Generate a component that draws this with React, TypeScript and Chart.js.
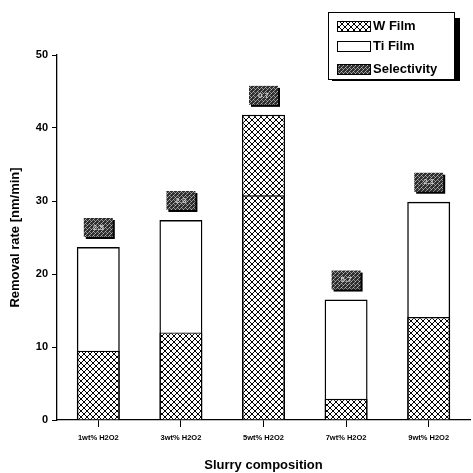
import React, { useEffect, useRef } from "react";
import { Chart, registerables } from "chart.js";

Chart.register(...registerables);

const categories = ["1wt% H2O2", "3wt% H2O2", "5wt% H2O2", "7wt% H2O2", "9wt% H2O2"];
const wFilm = [9.5, 12.0, 41.8, 2.9, 14.1];
const tiFilm = [23.7, 27.4, 30.8, 16.5, 29.9];
const selectivity = ["2.5", "2.3", "0.7", "5.7", "2.1"];
const yTicks = [0, 10, 20, 30, 40, 50];

const FONT = "'Liberation Sans', Arial, sans-serif";

function makeCrosshatch(transparent: boolean) {
  const c = document.createElement("canvas");
  c.width = 6;
  c.height = 6;
  const g = c.getContext("2d")!;
  if (!transparent) {
    g.fillStyle = "#ffffff";
    g.fillRect(0, 0, 6, 6);
  }
  g.strokeStyle = "#000";
  g.lineWidth = 1;
  g.beginPath();
  g.moveTo(-1, -1);
  g.lineTo(7, 7);
  g.moveTo(-1, 5);
  g.lineTo(1, 7);
  g.moveTo(5, -1);
  g.lineTo(7, 1);
  g.moveTo(7, -1);
  g.lineTo(-1, 7);
  g.moveTo(1, -1);
  g.lineTo(-1, 1);
  g.moveTo(7, 5);
  g.lineTo(5, 7);
  g.stroke();
  return g.createPattern(c, "repeat")!;
}

function makeStipple() {
  const c = document.createElement("canvas");
  c.width = 4;
  c.height = 4;
  const g = c.getContext("2d")!;
  g.fillStyle = "#2e2e2e";
  g.fillRect(0, 0, 4, 4);
  g.fillStyle = "#8a8a8a";
  g.fillRect(0, 0, 1, 1);
  g.fillRect(2, 2, 1, 1);
  g.fillRect(2, 0, 1, 1);
  g.fillStyle = "#b8b8b8";
  g.fillRect(1, 3, 1, 1);
  g.fillRect(3, 1, 1, 1);
  return g.createPattern(c, "repeat")!;
}

export default function App() {
  const ref = useRef<HTMLCanvasElement>(null);

  useEffect(() => {
    const canvas = ref.current!;
    const hatch = makeCrosshatch(false);
    const stipple = makeStipple();

    const overlayPlugin = {
      id: "overlay",
      afterDatasetsDraw(chart: any) {
        const ctx = chart.ctx;
        const x = chart.scales.x;
        const y = chart.scales.y;
        ctx.save();
        // selectivity boxes
        categories.forEach((_, i) => {
          const cx = x.getPixelForValue(i);
          const top = y.getPixelForValue(Math.max(wFilm[i], tiFilm[i]));
          const bw = 29;
          const bh = 19;
          const bx = cx - bw / 2;
          const by = top - 10 - bh;
          ctx.fillStyle = "#000";
          ctx.fillRect(bx + 2, by + 2, bw, bh);
          ctx.fillStyle = stipple;
          ctx.fillRect(bx, by, bw, bh);
          ctx.fillStyle = "#cfcfcf";
          ctx.font = `bold 8px ${FONT}`;
          ctx.textAlign = "center";
          ctx.textBaseline = "middle";
          ctx.fillText(selectivity[i], cx, by + bh / 2);
        });
        // legend
        const lx = 328, ly = 12, lw = 126, lh = 67;
        ctx.fillStyle = "#000";
        ctx.fillRect(lx + lw, ly + 6, 6, lh - 4);
        ctx.fillRect(lx + 4, ly + lh, lw + 2, 2);
        ctx.fillStyle = "#fff";
        ctx.fillRect(lx, ly, lw, lh);
        ctx.strokeStyle = "#000";
        ctx.lineWidth = 1;
        ctx.strokeRect(lx + 0.5, ly + 0.5, lw, lh);
        const items = [
          { label: "W Film", fill: hatch, y: 21 },
          { label: "Ti Film", fill: "#fff", y: 41 },
          { label: "Selectivity", fill: stipple, y: 64 },
        ];
        items.forEach((it) => {
          ctx.fillStyle = it.fill;
          ctx.fillRect(337, it.y, 33, 10);
          ctx.strokeStyle = "#000";
          ctx.strokeRect(337.5, it.y + 0.5, 33, 10);
          ctx.fillStyle = "#000";
          ctx.font = `bold 13px ${FONT}`;
          ctx.textAlign = "left";
          ctx.textBaseline = "middle";
          ctx.fillText(it.label, 373, it.y + 5.5);
        });
        ctx.restore();
      },
    };

    const chart = new Chart(canvas, {
      type: "bar",
      data: {
        labels: categories,
        datasets: [
          {
            label: "Ti Film",
            data: tiFilm,
            backgroundColor: "rgba(0,0,0,0)",
            borderColor: "#000",
            borderWidth: 1.4,
            grouped: false,
            order: 0,
            barPercentage: 0.52,
            categoryPercentage: 1,
          } as any,
          {
            label: "W Film",
            data: wFilm,
            backgroundColor: hatch,
            borderColor: "#000",
            borderWidth: 1.4,
            grouped: false,
            order: 1,
            barPercentage: 0.52,
            categoryPercentage: 1,
          } as any,
        ],
      },
      options: {
        responsive: false,
        animation: false,
        layout: { padding: { top: 55, right: 3, left: 0, bottom: 0 } },
        plugins: {
          legend: { display: false },
          tooltip: { enabled: false },
        },
        scales: {
          x: {
            offset: true,
            border: { color: "#000", width: 1.3 },
            grid: {
              display: true,
              drawOnChartArea: false,
              drawTicks: true,
              tickLength: 7,
              offset: false,
              color: "#000",
            },
            ticks: {
              color: "#000",
              font: { family: FONT, size: 7.5, weight: "bold" },
              padding: 6,
              maxRotation: 0,
              autoSkip: false,
            },
            title: {
              display: true,
              text: "Slurry composition",
              color: "#000",
              font: { family: FONT, size: 13, weight: "bold" },
              padding: { top: 10, bottom: 0 },
            },
            afterFit: (s: any) => {
              s.height = 53;
            },
          },
          y: {
            min: 0,
            max: 50,
            afterBuildTicks: (s: any) => {
              s.ticks = yTicks.map((v) => ({ value: v }));
            },
            border: { color: "#000", width: 1.3 },
            grid: {
              display: true,
              drawOnChartArea: false,
              drawTicks: true,
              tickLength: 5,
              color: "#000",
            },
            ticks: {
              color: "#000",
              font: { family: FONT, size: 11, weight: "bold" },
              padding: 4,
            },
            title: {
              display: true,
              text: "Removal rate [nm/min]",
              color: "#000",
              font: { family: FONT, size: 13, weight: "bold" },
              padding: { top: 8, bottom: 8 },
            },
            afterFit: (s: any) => {
              s.width = 57;
            },
          },
        },
      },
      plugins: [overlayPlugin],
    });
    return () => chart.destroy();
  }, []);

  return (
    <div style={{ position: "absolute", left: 0, top: 0, width: 473, height: 473, background: "#fff" }}>
      <canvas ref={ref} width={473} height={473} />
    </div>
  );
}
